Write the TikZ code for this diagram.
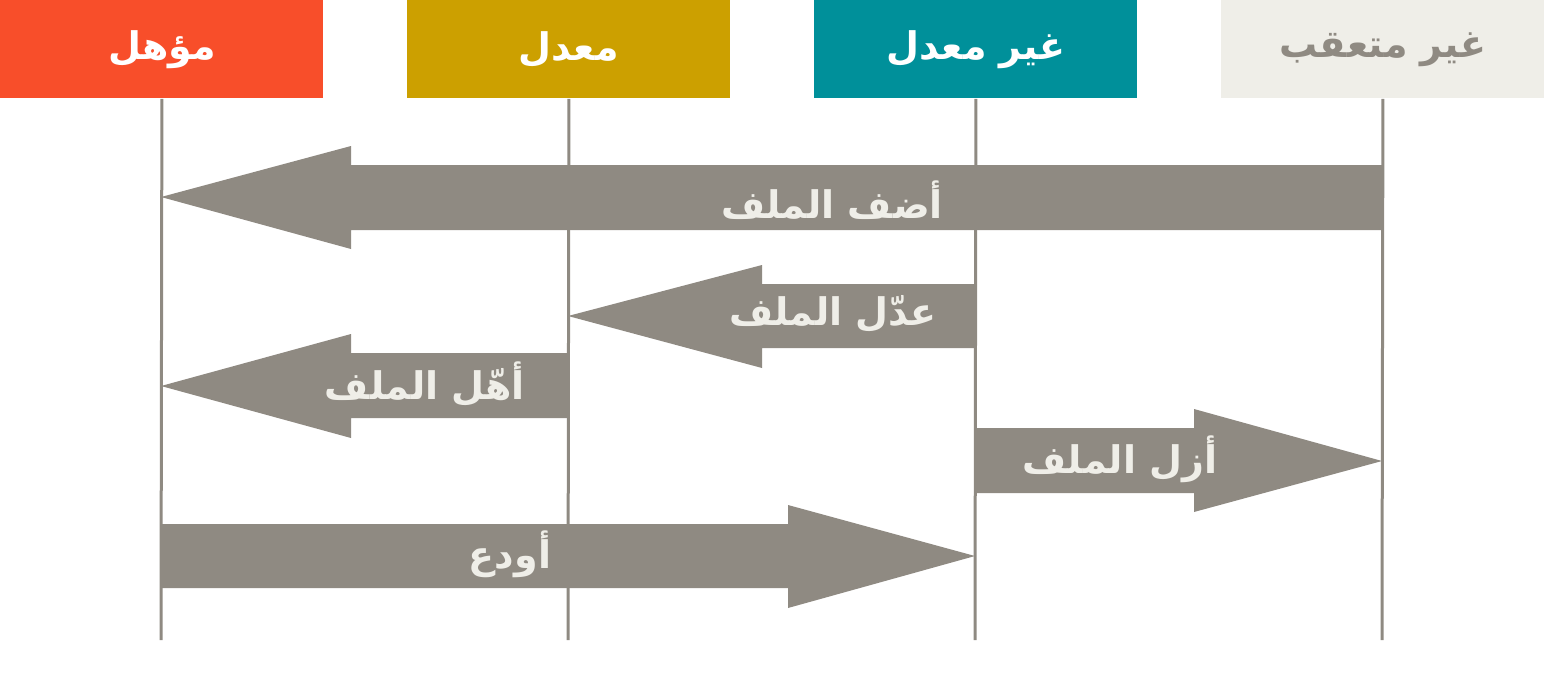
\documentclass[tikz,border=0pt]{standalone}
\usepackage{fontspec}
\newfontfamily\arabicfont[Script=Arabic]{DejaVu Sans}
\TeXXeTstate=1
\definecolor{cred}{HTML}{F84E2A}
\definecolor{cyel}{HTML}{CCA000}
\definecolor{cteal}{HTML}{00909A}
\definecolor{clight}{HTML}{EFEEE8}
\definecolor{cgray}{HTML}{8F8A82}
\begin{document}
\begin{tikzpicture}[x=0.5pt,y=-0.5pt,
  hdr/.style={anchor=north west,minimum width=323*0.5pt,minimum height=98*0.5pt,inner sep=0pt,font=\arabicfont\bfseries\fontsize{19}{22}\selectfont},
  lbl/.style={text=clight,font=\arabicfont\bfseries\fontsize{19}{22}\selectfont},
  vline/.style={draw=cgray,line width=1.5pt}]
\useasboundingbox (0,0) rectangle (1548,681);
\node[hdr,fill=cred,text=white] (h1) at (0,0) {\beginR مؤهل\endR};
\node[hdr,fill=cyel,text=white] (h2) at (407,0) {\beginR معدل\endR};
\node[hdr,fill=cteal,text=white] (h3) at (814,0) {\beginR غير معدل\endR};
\node[hdr,fill=clight,text=cgray] (h4) at (1221,0) {\beginR غير متعقب\endR};
\coordinate (e1) at (161,640);
\coordinate (e2) at (568,640);
\coordinate (e3) at (975,640);
\coordinate (e4) at (1382,640);
\draw[vline] (h1.south) -- (e1);
\draw[vline] (h2.south) -- (e2);
\draw[vline] (h3.south) -- (e3);
\draw[vline] (h4.south) -- (e4);
% arrows
\fill[cgray] (1382,165) -- (351,165) -- (351,146) -- (161,197) -- (351,249) -- (351,230) -- (1382,230) -- cycle;
\fill[cgray] (975,284) -- (762,284) -- (762,265) -- (568,316) -- (762,368) -- (762,348) -- (975,348) -- cycle;
\fill[cgray] (568,353) -- (351,353) -- (351,334) -- (161,386) -- (351,438) -- (351,418) -- (568,418) -- cycle;
\fill[cgray] (975,428) -- (1194,428) -- (1194,409) -- (1382,461) -- (1194,512) -- (1194,493) -- (975,493) -- cycle;
\fill[cgray] (161,524) -- (788,524) -- (788,505) -- (975,556) -- (788,608) -- (788,588) -- (161,588) -- cycle;
\node[lbl] (l1) at (832,200) {\beginR أضف الملف\endR};
\node[lbl] (l2) at (833,314) {\beginR عدّل الملف\endR};
\node[lbl] (l3) at (425,384) {\beginR أهّل الملف\endR};
\node[lbl] (l4) at (1120,459) {\beginR أزل الملف\endR};
\node[lbl] (l5) at (510,554) {\beginR أودع\endR};
\end{tikzpicture}
\end{document}
